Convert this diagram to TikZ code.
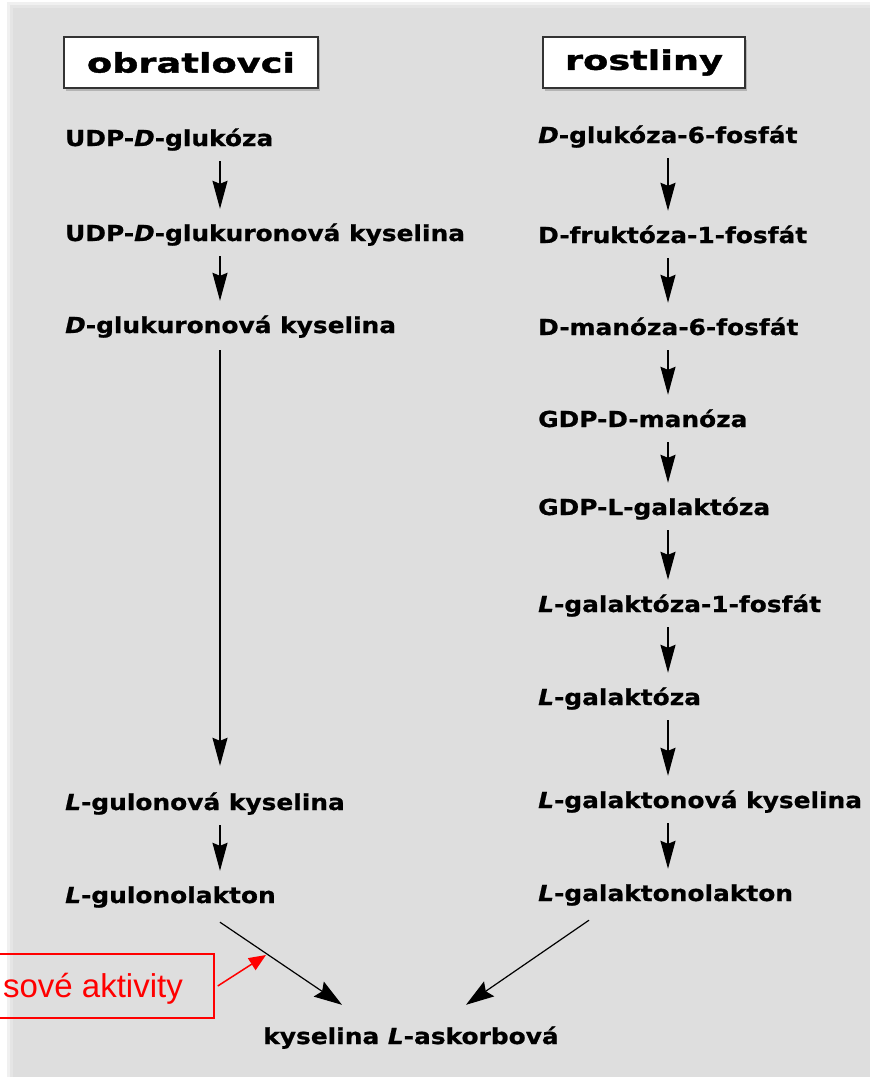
\documentclass[tikz,border=0pt]{standalone}
\usepackage{fontspec}
\newfontfamily\bodyfont[FakeStretch=1.13,FakeBold=0.8]{DejaVu Sans}
\newfontfamily\hdrfont[FakeStretch=1.36,FakeBold=1.5]{DejaVu Sans}
\newfontfamily\redfont{Liberation Sans}
\usetikzlibrary{arrows.meta,shadows,calc}
\definecolor{panelgray}{RGB}{222,222,222}
\definecolor{notered}{RGB}{255,0,0}
\begin{document}
\begin{tikzpicture}[x=1pt,y=-1pt,
  lbl/.style={inner sep=0pt, anchor=base west, text height=17pt, text depth=5pt,
    font=\bodyfont\fontsize{22}{26}\selectfont\bfseries},
  hdr/.style={draw=black!80, line width=1.3pt, fill=white, minimum height=51pt, inner sep=0pt,
    font=\hdrfont\fontsize{27}{32}\selectfont\bfseries,
    drop shadow={shadow xshift=2pt, shadow yshift=-3pt, opacity=0.35, fill=black!60}},
  flow/.style={line width=1.6pt, -{Stealth[length=28pt,width=15pt,inset=3pt]}},
  diag/.style={line width=1.2pt, -{Stealth[length=28pt,width=18pt,inset=4pt]}},
  notebox/.style={draw=notered, line width=1.4pt, minimum width=234pt, minimum height=64pt, inner sep=0pt},
  notetext/.style={anchor=base east, inner sep=0pt, text=notered, font=\redfont\fontsize{33}{38}\selectfont},
  notearrow/.style={draw=notered, line width=1.5pt, -{Triangle[length=17pt,width=14pt]}}]
\useasboundingbox (0,0) rectangle (870,1077);
\clip (0,0) rectangle (870,1077);
% background panel with soft shadow
\fill[white] (0,0) rectangle (870,1077);
\fill[black!6] (7,2) rectangle (870,1077);
\fill[black!10] (10,5) rectangle (870,1077);
\fill[panelgray] (13,8) rectangle (870,1077);
% headers
\node[hdr, minimum width=254pt] (hv) at (191,62.5) {obratlovci};
\node[hdr, minimum width=202pt] (hp) at (644,62.5) {rostliny};
% column axes
\coordinate (cL) at (220,0);
\coordinate (cR) at (668,0);
% left column
\node[lbl] (l1) at (65,146) {UDP-\textit{D}-glukóza};
\node[lbl] (l2) at (65,241) {UDP-\textit{D}-glukuronová kyselina};
\node[lbl] (l3) at (65,333) {\textit{D}-glukuronová kyselina};
\node[lbl] (l4) at (65,810) {\textit{L}-gulonová kyselina};
\node[lbl] (l5) at (65,903) {\textit{L}-gulonolakton};
% right column
\node[lbl] (r1) at (538,143) {\textit{D}-glukóza-6-fosfát};
\node[lbl] (r2) at (538,243) {D-fruktóza-1-fosfát};
\node[lbl] (r3) at (538,335) {D-manóza-6-fosfát};
\node[lbl] (r4) at (538,427) {GDP-D-manóza};
\node[lbl] (r5) at (538,515) {GDP-L-galaktóza};
\node[lbl] (r6) at (538,612) {\textit{L}-galaktóza-1-fosfát};
\node[lbl] (r7) at (538,705) {\textit{L}-galaktóza};
\node[lbl] (r8) at (538,808) {\textit{L}-galaktonová kyselina};
\node[lbl] (r9) at (538,901) {\textit{L}-galaktonolakton};
% product
\node[lbl, anchor=base] (asc) at (411,1044) {kyselina \textit{L}-askorbová};
% left arrows
\draw[flow] ([yshift=-10pt]l1.south -| cL) -- ([yshift=15pt]l2.north -| cL);
\draw[flow] ([yshift=-10pt]l2.south -| cL) -- ([yshift=15pt]l3.north -| cL);
\draw[flow] ([yshift=-12pt]l3.south -| cL) -- ([yshift=27pt]l4.north -| cL);
\draw[flow] ([yshift=-10pt]l4.south -| cL) -- ([yshift=15pt]l5.north -| cL);
% right arrows
\draw[flow] ([yshift=-10pt]r1.south -| cR) -- ([yshift=15pt]r2.north -| cR);
\draw[flow] ([yshift=-10pt]r2.south -| cR) -- ([yshift=15pt]r3.north -| cR);
\draw[flow] ([yshift=-10pt]r3.south -| cR) -- ([yshift=15pt]r4.north -| cR);
\draw[flow] ([yshift=-10pt]r4.south -| cR) -- ([yshift=15pt]r5.north -| cR);
\draw[flow] ([yshift=-10pt]r5.south -| cR) -- ([yshift=15pt]r6.north -| cR);
\draw[flow] ([yshift=-10pt]r6.south -| cR) -- ([yshift=15pt]r7.north -| cR);
\draw[flow] ([yshift=-10pt]r7.south -| cR) -- ([yshift=15pt]r8.north -| cR);
\draw[flow] ([yshift=-10pt]r8.south -| cR) -- ([yshift=15pt]r9.north -| cR);
% converging arrows
\draw[diag] ([xshift=155pt,yshift=-14pt]l5.south west) -- ([xshift=-69pt,yshift=22pt]asc.north);
\draw[diag] ([xshift=51pt,yshift=-14pt]r9.south west) -- ([xshift=55pt,yshift=22pt]asc.north);
% red annotation
\node[notebox] (note) at (97,986) {};
\node[notetext] (notetxt) at (183,997) {sové aktivity};
\coordinate (hit) at (266,955);
\draw[notearrow] ([xshift=3pt]note.east) -- (hit);
\end{tikzpicture}
\end{document}
